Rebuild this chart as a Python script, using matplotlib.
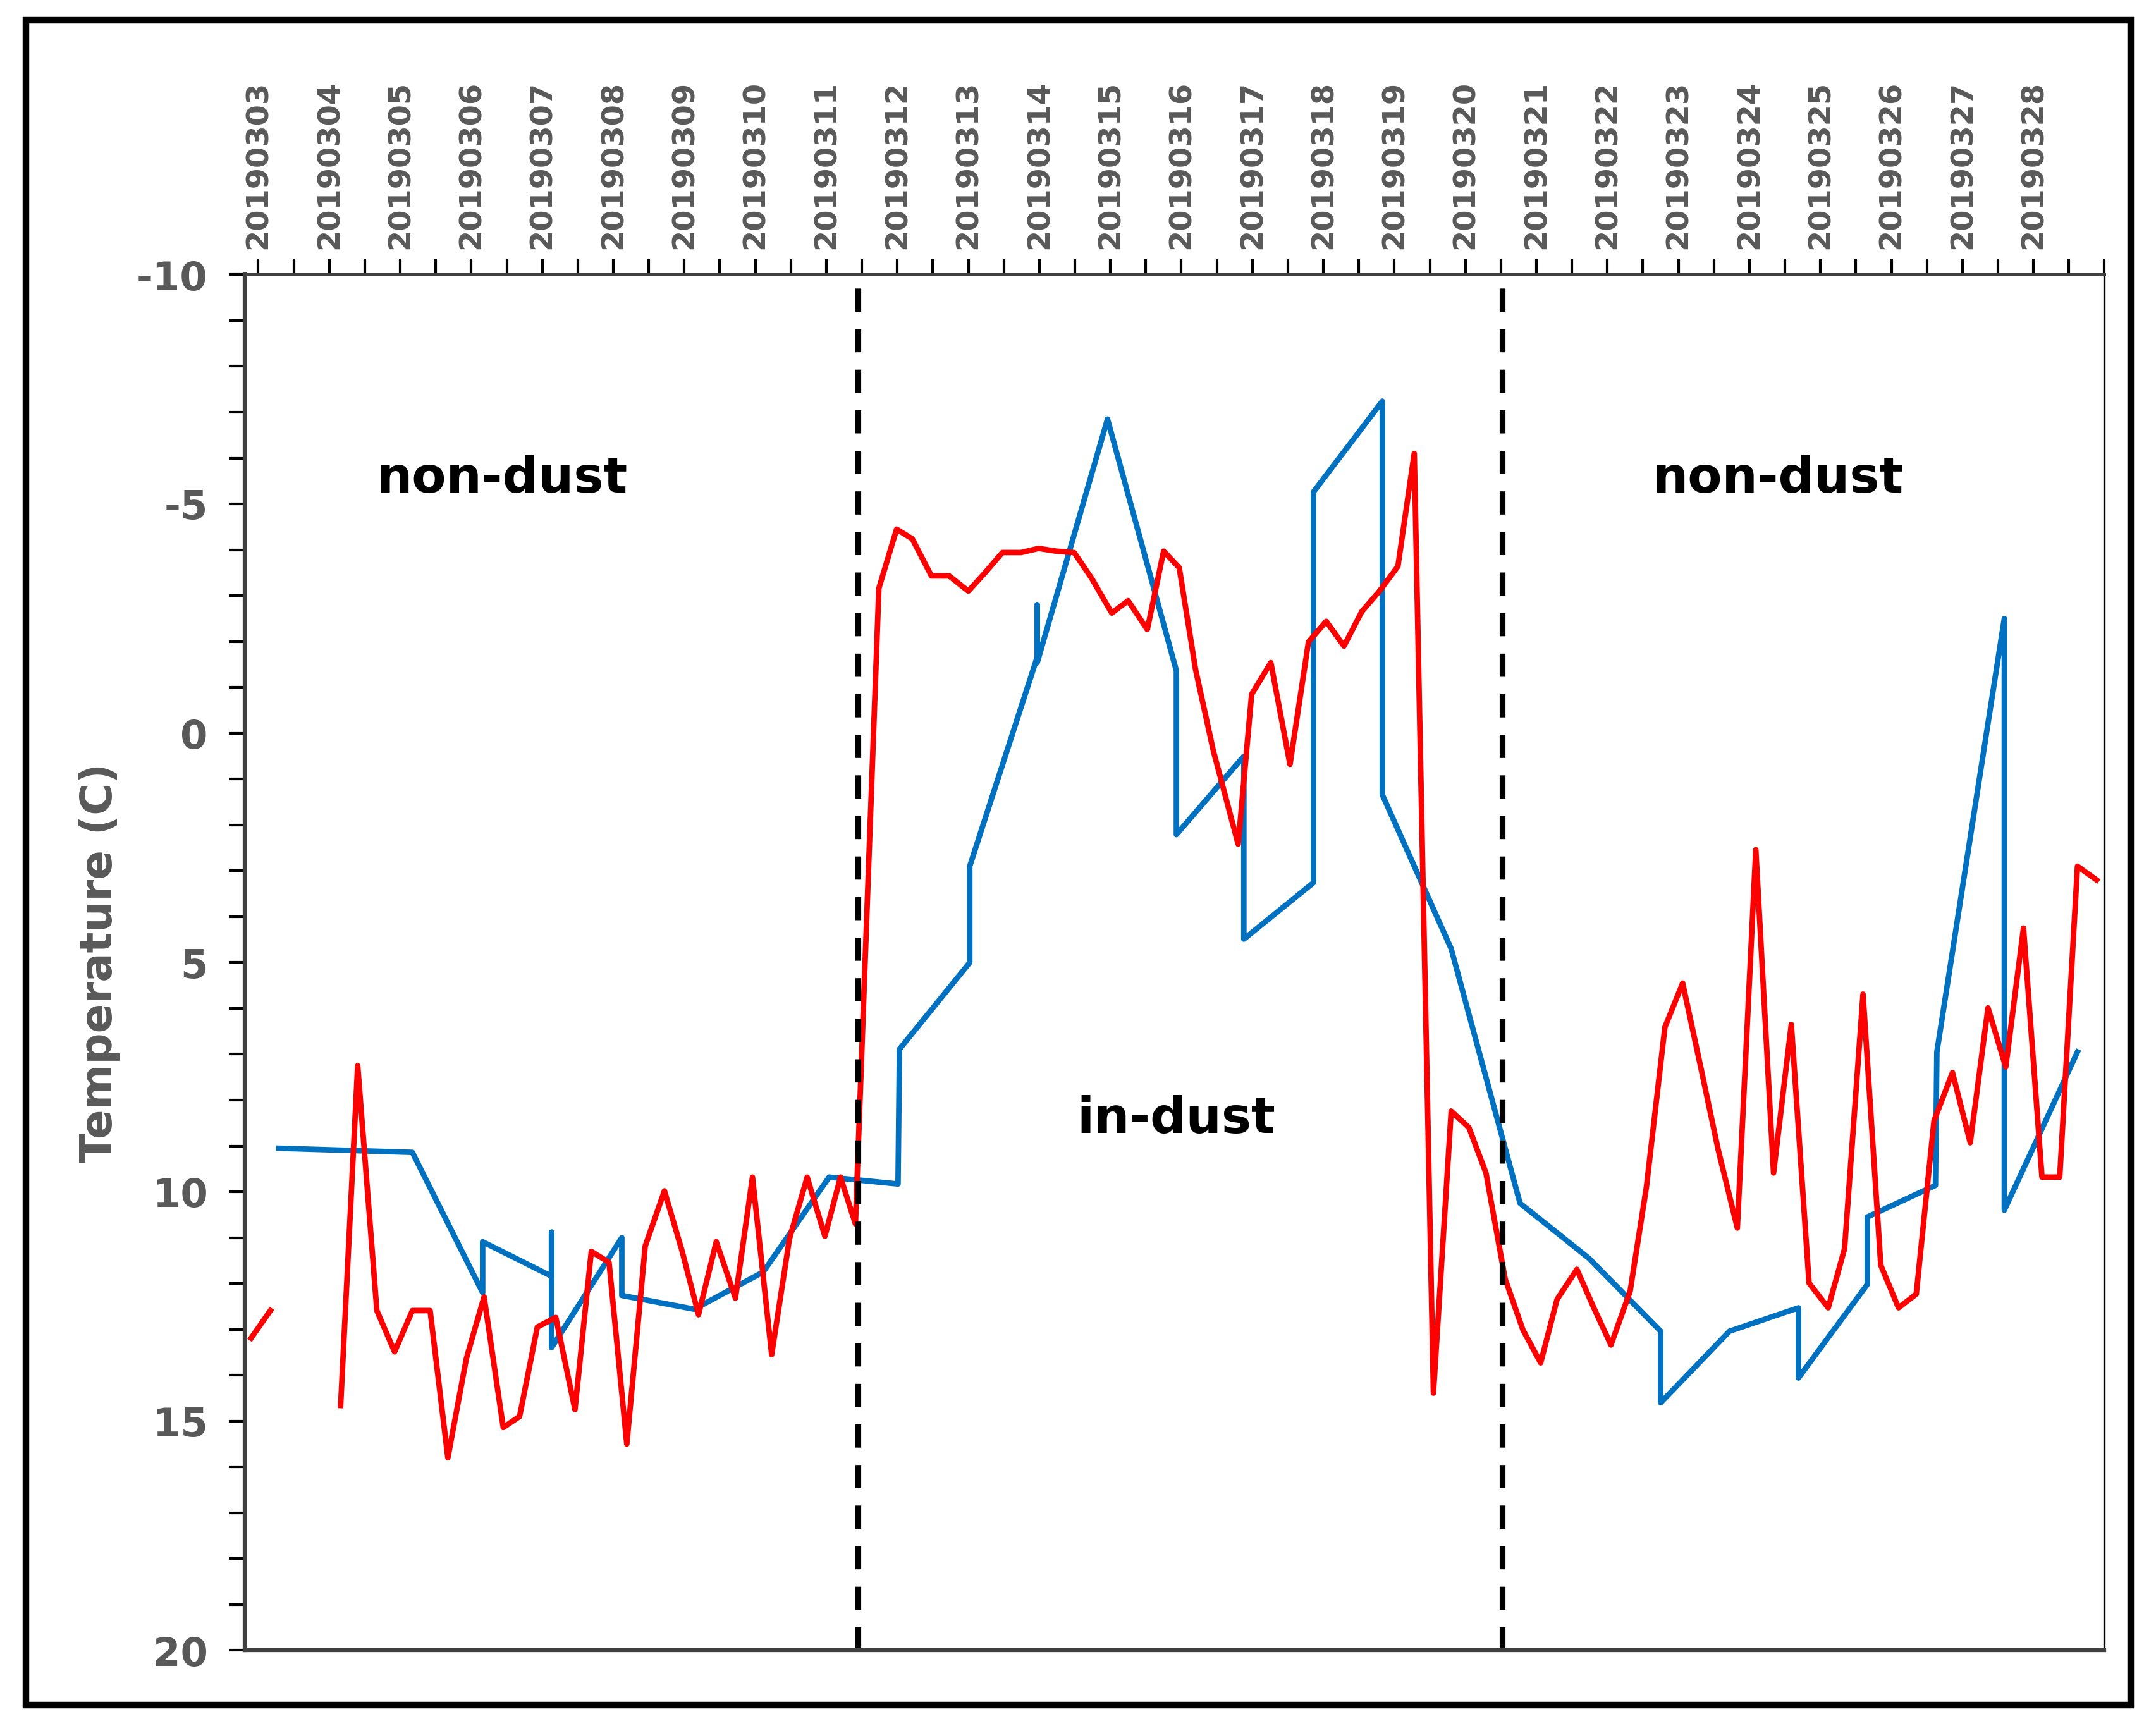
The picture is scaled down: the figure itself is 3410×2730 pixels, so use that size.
import numpy as np
import matplotlib
matplotlib.use("Agg")
import matplotlib.pyplot as plt
from matplotlib.patches import Rectangle
from matplotlib.ticker import MultipleLocator

dates = ["201903%02d" % d for d in range(3, 29)]

red_x = [-0.10, 0.17, np.nan, 1.16, 1.40, 1.67, 1.92, 2.17, 2.42, 2.67, 2.93, 3.18, 3.45, 3.68, 3.93,
         4.19, 4.46, 4.69, 4.94, 5.19, 5.45, 5.72, 5.97, 6.20, 6.45, 6.72, 6.96, 7.23, 7.48, 7.73,
         7.98, 8.20, 8.41, 8.74, 8.99, 9.21, 9.48, 9.73, 10.00, 10.23, 10.48, 10.74, 10.99, 11.24,
         11.49, 11.74, 12.02, 12.25, 12.52, 12.75, 12.97, 13.20, 13.45, 13.80, 13.99, 14.26, 14.53,
         14.79, 15.04, 15.29, 15.54, 15.79, 16.05, 16.28, 16.55, 16.80, 17.05, 17.29, 17.56, 17.81,
         18.06, 18.29, 18.57, 18.80, 19.05, 19.32, 19.55, 19.81, 20.06, 20.31, 20.56, 20.83, 21.09,
         21.34, 21.59, 21.84, 22.11, 22.34, 22.60, 22.85, 23.10, 23.35, 23.60, 23.86, 24.11, 24.36,
         24.61, 24.86, 25.12, 25.37, 25.62, 25.89]
red_t = [13.19, 12.59, np.nan, 14.66, 7.25, 12.59, 13.49, 12.59, 12.59, 15.8, 13.64, 12.29, 15.14, 14.9, 12.95,
         12.74, 14.75, 11.3, 11.54, 15.5, 11.18, 9.98, 11.3, 12.68, 11.09, 12.32, 9.68, 13.55, 11.03, 9.68,
         10.97, 9.68, 10.7, -3.16, -4.45, -4.24, -3.43, -3.43, -3.1, -3.49, -3.94, -3.94, -4.03, -3.97,
         -3.94, -3.37, -2.62, -2.89, -2.26, -3.97, -3.61, -1.39, 0.38, 2.42, -0.85, -1.54, 0.68,
         -1.99, -2.44, -1.9, -2.65, -3.1, -3.64, -6.1, 14.39, 8.24, 8.6, 9.59, 11.9, 13.01,
         13.73, 12.35, 11.69, 12.5, 13.34, 12.17, 9.89, 6.41, 5.45, 7.25, 9.08, 10.79, 2.54,
         9.59, 6.35, 11.99, 12.53, 11.24, 5.69, 11.6, 12.53, 12.23, 8.45, 7.4, 8.93, 5.99,
         7.28, 4.25, 9.68, 9.68, 2.9, 3.2]

blue_x = [0.29, 2.17, 3.16, 3.16, 4.13, 4.13, 4.13, 5.12, 5.12, 6.14, 7.11, 8.04, 9.01, 9.03, 10.02,
          10.02, 10.97, 10.97, 10.97, 11.96, 12.93, 12.93, 13.88, 13.88, 14.86, 14.86, 15.83, 15.83,
          16.80, 17.77, 18.74, 19.75, 19.75, 20.72, 21.69, 21.69, 22.66, 22.66, 23.62, 23.64, 24.59,
          24.59, 25.62]
blue_t = [9.05, 9.14, 12.2, 11.09, 11.84, 10.88, 13.4, 11.0, 12.26, 12.56, 11.75, 9.68, 9.83, 6.89, 5.0,
          2.9, -1.66, -2.8, -1.54, -6.85, -1.36, 2.21, 0.5, 4.49, 3.26, -5.26, -7.24, 1.34,
          4.7, 10.25, 11.45, 13.04, 14.6, 13.04, 12.53, 14.06, 12.02, 10.55, 9.86, 6.95, -2.5,
          10.4, 6.95]

dust_bounds = [8.45, 17.52]
labels = [("non-dust", 3.43, -5.56), ("in-dust", 12.93, 8.4), ("non-dust", 21.4, -5.56)]

gray = "#595959"
fig = plt.figure(figsize=(11.37, 9.103), dpi=300)
fig.patches.append(Rectangle((0.012, 0.012), 0.976, 0.976, transform=fig.transFigure,
                             fill=False, lw=2.5, ec="black"))
ax = fig.add_axes([0.1135, 0.0438, 0.8623, 0.7968])
ax.plot(blue_x, blue_t, color="#0070C0", lw=2.1)
ax.plot(red_x, red_t, color="#FF0000", lw=2.1)
for b in dust_bounds:
    ax.axvline(b, color="black", ls=(0, (4, 3)), lw=2.2)
for s, x, y in labels:
    ax.text(x, y, s, ha="center", va="center", fontsize=19, fontweight="bold")

ax.set_ylim(20, -10)
ax.set_xlim(-0.19, 26.0)
ax.xaxis.tick_top()
ax.set_xticks(range(len(dates)))
ax.set_xticklabels(dates, rotation=90, fontsize=11.5, fontweight="bold", color=gray)
ax.xaxis.set_minor_locator(MultipleLocator(0.5))
ax.set_yticks([-10, -5, 0, 5, 10, 15, 20])
ax.set_yticklabels(["-10", "-5", "0", "5", "10", "15", "20"], fontsize=15, fontweight="bold", color=gray)
ax.yaxis.set_minor_locator(MultipleLocator(1))
ax.tick_params(axis="x", which="both", direction="out", length=6, width=1, top=True, bottom=False, pad=4)
ax.tick_params(axis="y", which="both", direction="out", length=6, width=1, pad=8)
ax.set_ylabel("Temperature (C)", fontsize=16.5, fontweight="bold", color=gray, labelpad=6)
for sp in ["left", "bottom"]:
    ax.spines[sp].set_linewidth(1.5)
    ax.spines[sp].set_color("#404040")
ax.spines["top"].set_color("#404040")
ax.spines["top"].set_linewidth(1.2)
fig.savefig("out.png", dpi=300)
